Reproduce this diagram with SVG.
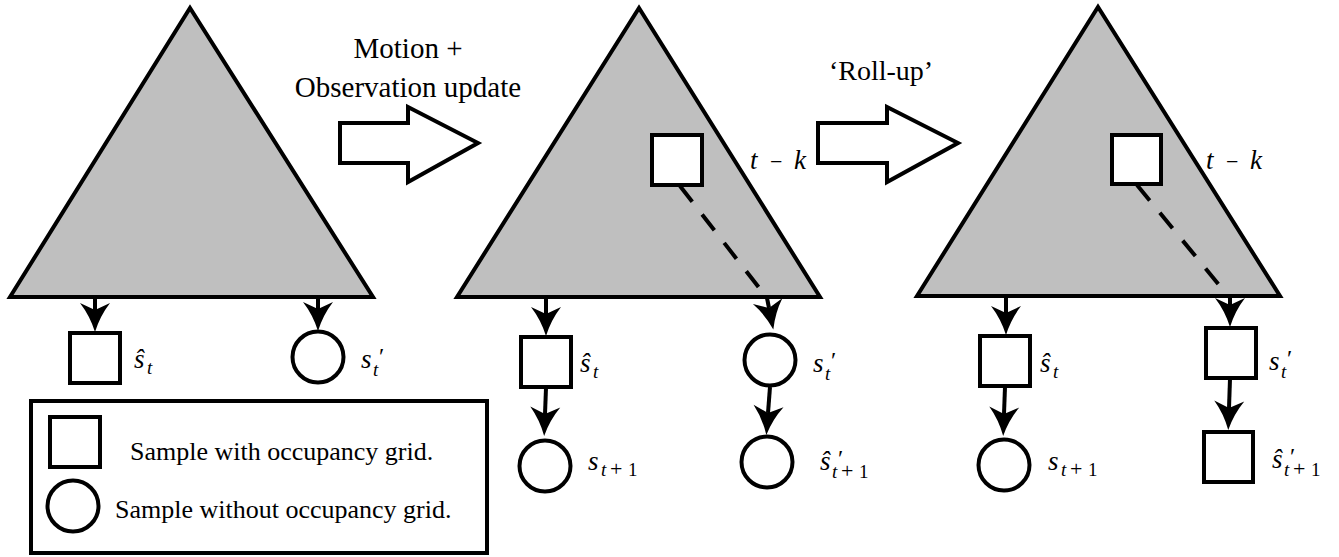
<svg xmlns="http://www.w3.org/2000/svg" width="1339" height="557" viewBox="0 0 1339 557">
<style>
.tri{fill:#bfbfbf;stroke:#000;stroke-width:4;stroke-linejoin:miter}
.nd{fill:#fff;stroke:#000;stroke-width:4}
.big{fill:#fff;stroke:#000;stroke-width:4}
.ln{fill:none;stroke:#000;stroke-width:4;marker-end:url(#ah)}
.dash{fill:none;stroke:#000;stroke-width:4;stroke-dasharray:20 16}
text{font-family:'Liberation Serif','Times New Roman','DejaVu Serif',serif;fill:#000}
.txt{font-size:29px}
.ru{font-size:28px}
.lg{font-size:26px}
.m{font-style:italic;font-size:27px}
.sb{font-style:italic;font-size:19px}
.sbr{font-style:normal;font-size:19px}
.pl{font-style:normal;font-size:22px}
.pr{font-style:normal;font-size:24px}
</style>
<defs>
<marker id="ah" markerUnits="userSpaceOnUse" orient="auto" overflow="visible" markerWidth="1" markerHeight="1" refX="0" refY="0">
<path d="M22,0 Q6,-5 -7,-15 L0,0 L-7,15 Q6,5 22,0 Z" fill="#000"/>
</marker>
</defs>
<g id="tree1"><polygon class="tri" points="10,297 190,8 373,297"/></g>
<g id="tree2"><polygon class="tri" points="457,297 639,8 820,297"/></g>
<g id="tree3"><polygon class="tri" points="917,296 1098,7 1280,296"/></g>
<g id="update-arrow">
<polygon class="big" points="340,123 408,123 408,107 478,143 408,182 408,163 340,163"/>
<text class="txt" x="408" y="58" text-anchor="middle">Motion +</text>
<text class="txt" x="408" y="97" text-anchor="middle">Observation update</text>
</g>
<g id="rollup-arrow">
<polygon class="big" points="818,123 887,123 887,107 958,143 887,182 887,163 818,163"/>
<text class="ru" x="881" y="80" text-anchor="middle">‘Roll-up’</text>
</g>
<g id="connectors">
<path class="dash" d="M680,186 L767,298"/>
<path class="dash" d="M1137,185 L1229,297"/>
<path class="ln" d="M95,297 L95,310"/>
<path class="ln" d="M318,297 L318,309"/>
<path class="ln" d="M546,297 L546,314"/>
<path class="ln" d="M767,298 L769,308"/>
<path class="ln" d="M546,388 L545,414"/>
<path class="ln" d="M770,387 L768,413"/>
<path class="ln" d="M1006,296 L1006,313"/>
<path class="ln" d="M1230,296 L1230,305"/>
<path class="ln" d="M1005,387 L1004,414"/>
<path class="ln" d="M1230,379 L1229,408"/>
</g>
<g id="k-node2"><rect class="nd" x="652" y="135" width="50" height="50"/>
<text class="m" x="750" y="169">t<tspan class="pl" x="770">−</tspan><tspan x="794">k</tspan></text></g>
<g id="k-node3"><rect class="nd" x="1112" y="135" width="49" height="49"/>
<text class="m" x="1206" y="169">t<tspan class="pl" x="1226">−</tspan><tspan x="1250">k</tspan></text></g>
<g id="n1-st"><rect class="nd" x="70" y="333" width="50" height="50"/>
<text class="m" x="134" y="368">ŝ<tspan class="sb" x="147" dy="6">t</tspan></text></g>
<g id="n1-sp"><circle class="nd" cx="318" cy="357" r="25.5"/>
<text class="m" x="361" y="368">s<tspan class="sb" x="373" dy="8">t</tspan><tspan class="pr" x="379" dy="-12">′</tspan></text></g>
<g id="n2-st"><rect class="nd" x="521" y="337" width="50" height="50"/>
<text class="m" x="580" y="372">ŝ<tspan class="sb" x="593" dy="6">t</tspan></text></g>
<g id="n2-st1"><circle class="nd" cx="545" cy="466" r="25.5"/>
<text class="m" x="588" y="470">s<tspan class="sb" x="601" dy="6">t</tspan><tspan class="pl" x="610">+</tspan><tspan class="sbr" x="628">1</tspan></text></g>
<g id="n2-sp"><circle class="nd" cx="770" cy="360" r="25.5"/>
<text class="m" x="813" y="372">s<tspan class="sb" x="825" dy="8">t</tspan><tspan class="pr" x="831" dy="-12">′</tspan></text></g>
<g id="n2-sp1"><circle class="nd" cx="767" cy="462" r="25.5"/>
<text class="m" x="820" y="470">ŝ<tspan class="sb" x="832" dy="8">t</tspan><tspan class="pl" x="841">+</tspan><tspan class="sbr" x="859">1</tspan><tspan class="pr" x="838" dy="-12">′</tspan></text></g>
<g id="n3-st"><rect class="nd" x="980" y="336" width="50" height="50"/>
<text class="m" x="1040" y="372">ŝ<tspan class="sb" x="1053" dy="6">t</tspan></text></g>
<g id="n3-st1"><circle class="nd" cx="1004" cy="465" r="25.5"/>
<text class="m" x="1048" y="470">s<tspan class="sb" x="1061" dy="6">t</tspan><tspan class="pl" x="1070">+</tspan><tspan class="sbr" x="1088">1</tspan></text></g>
<g id="n3-sp"><rect class="nd" x="1206" y="328" width="50" height="50"/>
<text class="m" x="1269" y="370">s<tspan class="sb" x="1281" dy="8">t</tspan><tspan class="pr" x="1287" dy="-12">′</tspan></text></g>
<g id="n3-sp1"><rect class="nd" x="1204" y="432" width="49" height="50"/>
<text class="m" x="1272" y="468">ŝ<tspan class="sb" x="1284" dy="8">t</tspan><tspan class="pl" x="1293">+</tspan><tspan class="sbr" x="1311">1</tspan><tspan class="pr" x="1290" dy="-12">′</tspan></text></g>
<g id="legend">
<rect class="nd" x="31" y="401" width="456" height="152"/>
<rect class="nd" x="50" y="417" width="50" height="50"/>
<circle class="nd" cx="73" cy="506" r="25.5"/>
<text class="lg" x="130" y="460">Sample with occupancy grid.</text>
<text class="lg" x="115" y="518">Sample without occupancy grid.</text>
</g>
</svg>
